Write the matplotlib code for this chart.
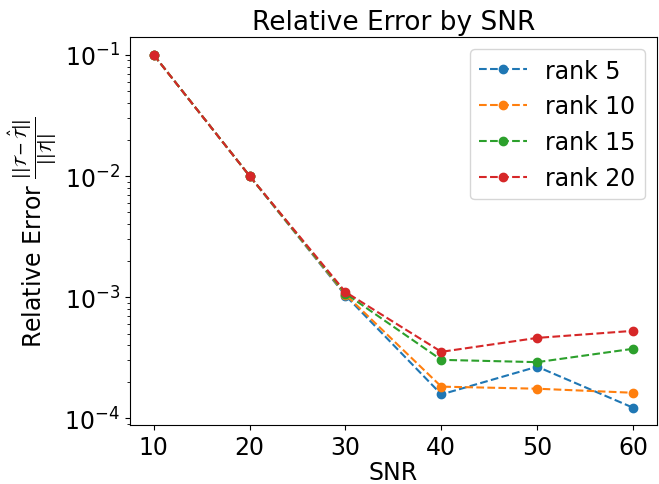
import matplotlib
matplotlib.use("Agg")
import matplotlib.pyplot as plt

snr = [10, 20, 30, 40, 50, 60]
rank5 = [0.1, 0.01, 1.03e-3, 1.57e-4, 2.66e-4, 1.22e-4]
rank10 = [0.1, 0.01, 1.05e-3, 1.82e-4, 1.75e-4, 1.62e-4]
rank15 = [0.1, 0.01, 1.07e-3, 3.03e-4, 2.9e-4, 3.74e-4]
rank20 = [0.1, 0.01, 1.1e-3, 3.53e-4, 4.6e-4, 5.26e-4]
labels = ['rank 5', 'rank 10', 'rank 15', 'rank 20']

plt.rcParams['font.size'] = 17

fig = plt.figure(figsize=(6.59, 4.85), dpi=100)
ax = fig.add_axes([0.197, 0.121, 0.800, 0.800])
for ys, lab in zip([rank5, rank10, rank15, rank20], labels):
    ax.plot(snr, ys, 'o--', label=lab)
ax.set_yscale('log')
ax.set_xlabel('SNR', labelpad=1)
ax.set_ylabel(r'Relative Error $\frac{||\mathcal{T}-\hat{\mathcal{T}}||}{||\mathcal{T}||}$')
ax.set_title('Relative Error by SNR', fontsize=19)
ax.legend(loc='upper right')

fig.savefig('out.png', dpi=100)
